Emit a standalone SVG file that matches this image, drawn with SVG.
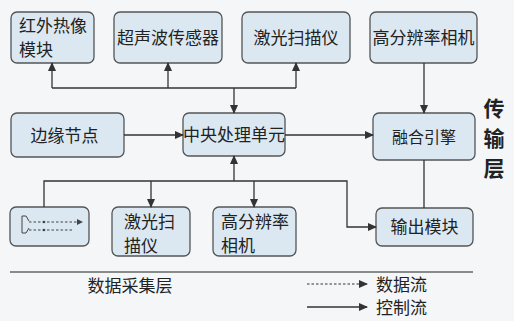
<svg xmlns="http://www.w3.org/2000/svg" width="514" height="321" viewBox="0 0 514 321">
<defs>
<marker id="ah" markerUnits="userSpaceOnUse" markerWidth="9" markerHeight="8" refX="8" refY="4" orient="auto">
<path d="M0,0 L9,4 L0,8 z" fill="#333"/>
</marker>
<marker id="ahs" markerUnits="userSpaceOnUse" markerWidth="6" markerHeight="6" refX="5" refY="3" orient="auto">
<path d="M0,0 L6,3 L0,6 z" fill="#444"/>
</marker>
<style>
.box{fill:#dbe8f2;stroke:#555;stroke-width:1.3}
.t{font-family:"Noto Sans CJK SC","Noto Sans",sans-serif;font-size:17px;fill:#222}
.c{fill:none;stroke:#333;stroke-width:1.3}
.d{fill:none;stroke:#444;stroke-width:1;stroke-dasharray:2.5 2}
</style>
</defs>
<rect width="514" height="321" fill="#f4f6f8"/>
<g id="n_infrared"><rect class="box" x="11" y="12" width="83" height="51" rx="6"/><text class="t" x="19" y="32">红外热像</text><text class="t" x="19" y="56">模块</text></g>
<g id="n_ultrasonic"><rect class="box" x="114" y="12" width="108" height="51" rx="6"/><text class="t" x="168" y="44" text-anchor="middle">超声波传感器</text></g>
<g id="n_laser_top"><rect class="box" x="242" y="12" width="108" height="51" rx="6"/><text class="t" x="296" y="44" text-anchor="middle">激光扫描仪</text></g>
<g id="n_camera_top"><rect class="box" x="370" y="12" width="107" height="51" rx="6"/><text class="t" x="423.5" y="44" text-anchor="middle">高分辨率相机</text></g>
<g id="n_edge"><rect class="box" x="11" y="113" width="113" height="44" rx="6"/><text class="t" x="64.5" y="142" text-anchor="middle">边缘节点</text></g>
<g id="n_cpu"><rect class="box" x="183" y="113" width="102" height="43" rx="6"/><text class="t" x="234" y="141" text-anchor="middle">中央处理单元</text></g>
<g id="n_fusion"><rect class="box" x="373" y="113" width="102" height="47" rx="6"/><text class="t" x="424" y="143" text-anchor="middle" style="font-size:16px">融合引擎</text></g>
<g id="n_icon"><rect class="box" x="10" y="207" width="79" height="39" rx="6"/>
<path d="M22,216 H26 L29,221 M22,216 V233 H26 L29,228" fill="none" stroke="#444" stroke-width="1"/>
<path class="d" d="M29,222 H82" marker-end="url(#ahs)"/>
<path class="d" d="M29,230 H73"/>
<circle cx="44" cy="222" r="1.3" fill="#444"/><circle cx="44" cy="230" r="1.3" fill="#444"/>
</g>
<g id="n_laser_bot"><rect class="box" x="112" y="207" width="78" height="49" rx="6"/><text class="t" x="124" y="228">激光扫</text><text class="t" x="124" y="252">描仪</text></g>
<g id="n_camera_bot"><rect class="box" x="213" y="207" width="83" height="49" rx="6"/><text class="t" x="221" y="228">高分辨率</text><text class="t" x="221" y="252">相机</text></g>
<g id="n_output"><rect class="box" x="376" y="208" width="97" height="38" rx="6"/><text class="t" x="424.5" y="233" text-anchor="middle">输出模块</text></g>
<g id="connectors">
<path class="c" d="M52,88 H296"/>
<path class="c" d="M52,88 V63" marker-end="url(#ah)"/>
<path class="c" d="M168,88 V63" marker-end="url(#ah)"/>
<path class="c" d="M296,88 V63" marker-end="url(#ah)"/>
<path class="c" d="M234,88 V113" marker-end="url(#ah)"/>
<path class="c" d="M424,63 V113" marker-end="url(#ah)"/>
<path class="c" d="M124,135 H183" marker-end="url(#ah)"/>
<path class="c" d="M285,135 H373" marker-end="url(#ah)"/>
<path class="c" d="M234,181 V156" marker-end="url(#ah)"/>
<path class="c" d="M44,207 V181 H347 V227 H376" marker-end="url(#ah)"/>
<path class="c" d="M151,181 V207" marker-end="url(#ah)"/>
<path class="c" d="M254,181 V207" marker-end="url(#ah)"/>
<path class="c" d="M424,160 V208"/>
</g>
<path d="M10,272 H473" stroke="#666" stroke-width="1.3"/>
<text class="t" x="130" y="292" text-anchor="middle">数据采集层</text>
<g id="legend">
<path d="M307,284 H367" fill="none" stroke="#333" stroke-width="1" stroke-dasharray="2.5 2" marker-end="url(#ah)"/>
<path d="M307,307 H367" class="c" marker-end="url(#ah)"/>
<text class="t" x="376" y="291">数据流</text>
<text class="t" x="376" y="314">控制流</text>
</g>
<g id="layer_label" style="font-family:'Noto Sans CJK SC',sans-serif;font-size:21px;font-weight:bold;fill:#222">
<text x="494" y="116" text-anchor="middle">传</text>
<text x="494" y="146" text-anchor="middle">输</text>
<text x="494" y="176" text-anchor="middle">层</text>
</g>
</svg>
